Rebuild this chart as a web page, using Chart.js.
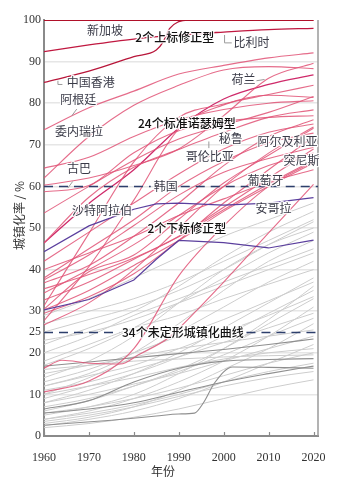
<!DOCTYPE html>
<html>
<head>
<meta charset="utf-8">
<script src="https://cdn.jsdelivr.net/npm/chart.js@4/dist/chart.umd.min.js"></script>
<style>
  html, body { margin: 0; background: #fff; }
  #wrap { width: 339px; height: 486px; }
</style>
</head>
<body>
<div id="wrap"><canvas id="urban"></canvas></div>
<script>
const years = [1960, 1970, 1980, 1990, 2000, 2010, 2020];
const xTicks = [1960, 1970, 1980, 1990, 2000, 2010, 2020];
const yTicks = [0, 10, 20, 25, 30, 40, 50, 60, 70, 80, 90, 100];

// 上标修正型
const singapore = [100, 100, 100, 100, 100, 100, 100];
const belgium = [92.4, 94.0, 95.4, 96.4, 97.1, 97.7, 98.0];
const hongKongYears = [1960, 1970, 1980, 1985, 1986.5, 1988, 1990, 1992, 2020];
const hongKong = [85.0, 87.7, 91.2, 92.8, 94.7, 98.0, 99.6, 100, 100];

// 标准诺瑟姆型
const northam = [
  [73.6, 78.9, 82.9, 87.0, 89.1, 90.9, 92.1],
  [62.0, 72.0, 79.5, 84.3, 88.0, 88.8, 88.3],
  [60.3, 62.0, 65.0, 69.0, 77.0, 86.0, 89.6],
  [58.7, 60.2, 68.1, 73.4, 75.6, 76.6, 77.0],
  [64.4, 67.0, 72.0, 76.0, 78.5, 80.0, 80.6],
  [53.6, 60.0, 66.3, 71.4, 74.7, 77.8, 81.6],
  [46.4, 57.4, 64.6, 68.9, 73.0, 76.6, 78.4],
  [30.5, 39.5, 43.5, 52.1, 60.8, 67.5, 74.0],
  [37.5, 43.5, 50.6, 57.9, 63.4, 66.7, 69.4],
  [35.4, 38.8, 42.8, 47.9, 54.4, 60.6, 66.3],
  [27.7, 40.7, 56.7, 73.8, 79.6, 81.9, 81.4],
  [31.3, 48.7, 65.9, 76.6, 79.8, 82.1, 84.3],
  [10.6, 13.2, 21.0, 38.5, 50.5, 60.0, 66.0],
  [38.0, 45.0, 52.0, 60.0, 66.0, 70.5, 72.8],
  [36.8, 41.0, 48.0, 56.0, 65.0, 72.0, 76.0],
  [34.4, 40.0, 46.0, 53.0, 60.0, 65.0, 68.0],
  [32.7, 37.0, 42.5, 48.0, 55.0, 62.0, 69.0],
  [30.3, 35.0, 41.0, 47.0, 54.0, 60.0, 65.6],
  [29.5, 33.5, 39.0, 47.0, 56.0, 64.0, 72.0],
  [26.7, 32.0, 40.0, 50.0, 60.0, 68.0, 74.3],
  [42.0, 49.0, 56.0, 63.0, 69.0, 73.0, 75.0],
  [40.0, 44.0, 48.0, 53.0, 57.0, 61.0, 64.0],
];
const northamDark = [46.4, 55.9, 64.0, 74.0, 81.0, 84.5, 86.8];
const lateRiseYears = [1960, 1964, 1970, 1977, 1981, 1988, 1992, 2000, 2010, 2020];
const lateRise = [16.3, 18.2, 17.5, 17.3, 19.5, 23.8, 28.0, 37.0, 48.8, 60.5];

// 下标修正型
const lowerAYears = [1960, 1970, 1975, 1980, 1985, 1990, 2000, 2010, 2020];
const lowerA = [44.3, 50.5, 52.5, 54.5, 55.8, 56.0, 55.5, 56.0, 57.3];
const lowerBYears = [1960, 1970, 1980, 1985, 1990, 2000, 2010, 2020];
const lowerB = [30.3, 32.8, 37.5, 42.5, 47.0, 46.5, 45.2, 47.1];

// 未定形城镇化曲线
const grayLight = [
  [29, 33, 38, 43, 48, 52, 56],
  [22, 26, 30, 36, 43, 49, 54],
  [25, 28, 31, 35, 40, 46, 51.5],
  [14, 18, 24, 32, 40, 46, 50],
  [17, 21, 26, 32, 38, 44, 49],
  [12, 15, 20, 27, 35, 42, 47],
  [20, 24, 29, 33, 37, 41, 45],
  [10, 14, 19, 25, 31, 37, 42],
  [18, 22, 26, 29, 33, 36.5, 40],
  [8, 11, 15, 20, 26, 32, 38],
  [13, 16, 20, 24, 28, 32.5, 37],
  [5, 7, 10, 15, 21, 28, 36],
  [9, 12, 15, 19, 24, 29.5, 35],
  [6, 8.5, 12, 16, 21, 27, 33],
  [4, 6, 9, 13, 18, 24, 31],
  [11, 13, 16, 19, 22.5, 26, 29.5],
  [7, 9, 12, 15.5, 19.5, 24, 28.3],
  [3, 4.5, 7, 11, 16, 21, 27],
  [15, 17, 19, 21, 22.5, 24, 25.5],
  [2.5, 4, 6, 9, 13, 17.5, 22],
  [10, 12, 14, 16.5, 18.5, 20, 21],
  [5.5, 7, 9, 11.5, 14.5, 17.5, 20],
  [16, 17, 18, 18.5, 19, 19.3, 19.5],
  [4, 5.5, 7.5, 10, 13, 15.5, 17.5],
  [2, 3, 4.5, 6.5, 9, 11.5, 13.5],
  [3.5, 5, 7, 9.5, 12, 14, 15.5],
  [27, 30, 33, 37, 42, 47, 52],
  [23, 25, 28, 32, 36, 40, 44],
  [8, 10, 12.5, 15, 18, 21, 24],
  [12, 14.5, 17, 21, 25, 29, 33.5],
];
const grayDark = [
  [16.8, 17.8, 18.8, 19.8, 20.8, 22.0, 23.3],
  [6.5, 8.5, 13.0, 16.3, 18.0, 18.4, 18.6],
  [5.5, 6.5, 8.0, 10.5, 13.0, 15.0, 16.8],
];
const jumpYears = [1960, 1975, 1985, 1990, 1993.5, 1995.5, 1998, 2002, 2010, 2020];
const jump = [2.6, 3.8, 4.8, 5.3, 5.5, 8.0, 12.8, 16.6, 16.5, 16.3];

const countryNotes = [
  ['新加坡', 1973.6, 97.6],
  ['比利时', 2006.2, 94.7],
  ['中国香港', 1970.4, 84.9],
  ['阿根廷', 1967.6, 81.0],
  ['委内瑞拉', 1967.8, 73.3],
  ['荷兰', 2004.4, 85.8],
  ['秘鲁', 2001.6, 71.6],
  ['哥伦比亚', 1996.9, 67.1],
  ['阿尔及利亚', 2014.2, 70.7],
  ['突尼斯', 2017.3, 66.3],
  ['古巴', 1967.8, 64.4],
  ['韩国', 1987.1, 59.9],
  ['葡萄牙', 2009.3, 61.5],
  ['沙特阿拉伯', 1972.9, 54.3],
  ['安哥拉', 2011.1, 54.6],
];
const groupNotes = [
  ['2个上标修正型', 1989.1, 95.9],
  ['24个标准诺瑟姆型', 1991.8, 75.2],
  ['2个下标修正型', 1991.8, 49.8],
  ['34个未定形城镇化曲线', 1990.9, 24.8],
];
// dashed reference lines, each broken around the note sitting on it
const refLines = [
  { value: 60, gap: '韩国', at: 1987.1 },
  { value: 25, gap: '34个未定形城镇化曲线', at: 1990.9 },
];
const leaders = [
  [[1963.1, 85.4], [1963.1, 84.5], [1964.1, 84.5]],
  [[1967.3, 78.6], [1966.2, 77.0]],
  [[2000.2, 96.4], [2000.2, 94.5], [2001.8, 94.5]],
  [[2007.3, 85.4], [2009.1, 85.7]],
  [[1996.7, 70.8], [1996.7, 69.2]],
  [[1966.4, 61.2], [1965.3, 59.6]],
];

const CJK = '"Noto Sans CJK SC", sans-serif';
const SERIF = '"Liberation Serif", "DejaVu Serif", serif';

function series(xs, ys, color, width, order, extra) {
  return Object.assign({
    data: xs.map((x, i) => ({ x: x, y: ys[i] })),
    borderColor: color,
    borderWidth: width,
    order: order,
  }, extra || {});
}

const datasets = [];
datasets.push(series(years, singapore, '#b01029', 1.8, 0));
datasets.push(series(years, belgium, '#c01840', 1.3, 0));
datasets.push(series(hongKongYears, hongKong, '#b8163a', 1.3, 0));
datasets.push(series(lowerAYears, lowerA, '#5b3f9e', 1.2, 1, { cubicInterpolationMode: 'default', tension: 0 }));
datasets.push(series(lowerBYears, lowerB, '#5b3f9e', 1.2, 1, { cubicInterpolationMode: 'default', tension: 0 }));
northam.forEach(v => datasets.push(series(years, v, 'rgba(224, 82, 118, 0.85)', 1.1, 2)));
datasets.push(series(years, northamDark, '#cf2a6a', 1.3, 2));
datasets.push(series(lateRiseYears, lateRise, 'rgba(224, 82, 118, 0.85)', 1.1, 2));
grayDark.forEach(v => datasets.push(series(years, v, '#8f8f8f', 1.1, 3)));
datasets.push(series(jumpYears, jump, '#8f8f8f', 1.1, 3));
grayLight.forEach(v => datasets.push(series(years, v, '#cdcdcd', 1, 4)));

function haloText(ctx, text, px, py) {
  ctx.strokeText(text, px, py);
  ctx.fillText(text, px, py);
}

const notes = {
  id: 'notes',
  afterDatasetsDraw(chart) {
    const { ctx, chartArea: a, scales: { x, y } } = chart;
    ctx.save();

    // right frame
    ctx.strokeStyle = '#9a9a9a';
    ctx.lineWidth = 1.5;
    ctx.beginPath();
    ctx.moveTo(a.right, a.top);
    ctx.lineTo(a.right, a.bottom);
    ctx.stroke();

    // tick marks pointing into the plot
    ctx.strokeStyle = '#8a8a8a';
    ctx.lineWidth = 1.2;
    xTicks.forEach(t => {
      const px = Math.round(x.getPixelForValue(t)) + 0.5;
      ctx.beginPath();
      ctx.moveTo(px, a.bottom);
      ctx.lineTo(px, a.bottom - 4);
      ctx.stroke();
    });

    ctx.font = '12px ' + CJK;
    ctx.textAlign = 'center';
    ctx.textBaseline = 'middle';

    // dashed reference lines
    ctx.strokeStyle = '#2d3f6c';
    ctx.lineWidth = 1.3;
    ctx.setLineDash([9, 6]);
    refLines.forEach(r => {
      const py = Math.round(y.getPixelForValue(r.value)) + 0.5;
      const cx = x.getPixelForValue(r.at);
      const half = ctx.measureText(r.gap).width / 2 + 3;
      ctx.beginPath();
      ctx.moveTo(a.left, py);
      ctx.lineTo(cx - half, py);
      ctx.moveTo(cx + half, py);
      ctx.lineTo(a.right, py);
      ctx.stroke();
    });
    ctx.setLineDash([]);

    // leader lines
    ctx.strokeStyle = '#9a9a9a';
    ctx.lineWidth = 1;
    leaders.forEach(pts => {
      ctx.beginPath();
      pts.forEach((p, i) => {
        const px = x.getPixelForValue(p[0]);
        const py = y.getPixelForValue(p[1]);
        if (i === 0) ctx.moveTo(px, py); else ctx.lineTo(px, py);
      });
      ctx.stroke();
    });

    // notes
    ctx.strokeStyle = 'rgba(255,255,255,0.9)';
    ctx.lineWidth = 2.5;
    ctx.lineJoin = 'round';
    ctx.fillStyle = '#3a3b48';
    countryNotes.forEach(n => haloText(ctx, n[0], x.getPixelForValue(n[1]), y.getPixelForValue(n[2])));
    ctx.fillStyle = '#111';
    ctx.font = '500 12px ' + CJK;
    groupNotes.forEach(n => haloText(ctx, n[0], x.getPixelForValue(n[1]), y.getPixelForValue(n[2])));

    // axis titles
    ctx.fillStyle = '#333';
    ctx.font = '12px ' + CJK;
    ctx.fillText('年份', x.getPixelForValue(1986.5), 471);
    ctx.translate(19, y.getPixelForValue(53));
    ctx.rotate(-Math.PI / 2);
    ctx.fillText('城镇化率 / %', 0, 0);

    ctx.restore();
  }
};

new Chart(document.getElementById('urban'), {
  type: 'line',
  data: { datasets: datasets },
  options: {
    responsive: true,
    maintainAspectRatio: false,
    animation: false,
    layout: { padding: { top: 20, right: 21, left: 0, bottom: 0 } },
    plugins: { legend: { display: false }, tooltip: { enabled: false } },
    elements: {
      point: { radius: 0 },
      line: { cubicInterpolationMode: 'monotone', fill: false }
    },
    scales: {
      x: {
        type: 'linear',
        min: 1960,
        max: 2021,
        afterBuildTicks: s => { s.ticks = xTicks.map(v => ({ value: v })); },
        afterFit: s => { s.height = 50; },
        grid: { display: false },
        border: { color: '#8a8a8a', width: 2 },
        ticks: {
          autoSkip: false, maxRotation: 0, padding: 7, color: '#333',
          font: { family: SERIF, size: 12 },
          callback: v => String(v)
        }
      },
      y: {
        min: 0,
        max: 100,
        afterBuildTicks: s => { s.ticks = yTicks.map(v => ({ value: v })); },
        afterFit: s => { s.width = 44; },
        grid: {
          drawTicks: false,
          lineWidth: 1.5,
          color: c => (c.tick && c.tick.value % 10 === 0 && c.tick.value > 0 && c.tick.value < 100) ? '#e6e6e6' : 'rgba(0,0,0,0)'
        },
        border: { color: '#8a8a8a', width: 2 },
        ticks: {
          autoSkip: false, padding: 3, color: '#333',
          font: { family: SERIF, size: 12 }
        }
      }
    }
  },
  plugins: [notes]
});
</script>
</body>
</html>
